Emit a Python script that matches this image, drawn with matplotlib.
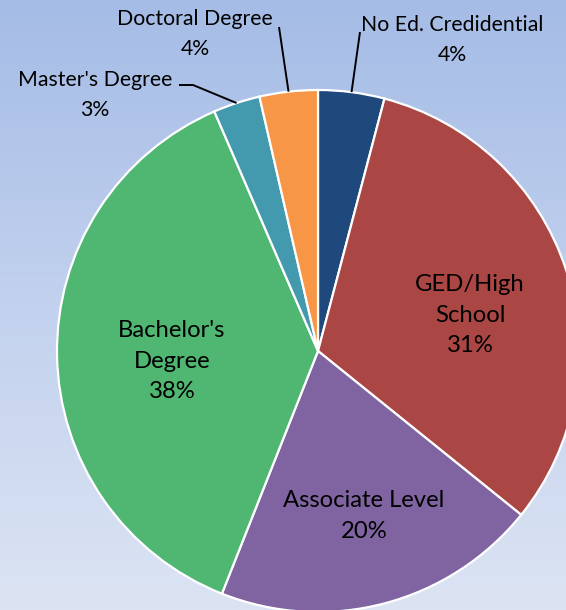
import numpy as np
import matplotlib
matplotlib.use("Agg")
import matplotlib.pyplot as plt
from matplotlib.colors import LinearSegmentedColormap

plt.rcParams['font.family'] = ['Lato', 'DejaVu Sans']

categories = ["No Ed. Credidential", "GED/High\nSchool", "Associate Level",
              "Bachelor's\nDegree", "Master's Degree", "Doctoral Degree"]
values = [4.1, 31.7, 20.2, 37.5, 2.9, 3.6]
pct_labels = ["4%", "31%", "20%", "38%", "3%", "4%"]
colors = ["#1F497D", "#AA4744", "#8064A2", "#50B773", "#4399AE", "#F79646"]

W, H = 566, 610
fig = plt.figure(figsize=(W / 100, H / 100), dpi=100)
ax = fig.add_axes([0, 0, 1, 1])

# gradient background
cmap = LinearSegmentedColormap.from_list("bg", ["#DCE4F3", "#C2D1EE", "#A5BCE6"])
grad = np.linspace(0, 1, 256).reshape(-1, 1)
ax.imshow(grad, extent=[0, W, 0, H], origin='lower', cmap=cmap, aspect='auto', zorder=0)

cx, cy, R = 318, H - 351, 261
wedges, _ = ax.pie(values, colors=colors, startangle=90, counterclock=False,
                   center=(cx, cy), radius=R, frame=True,
                   wedgeprops=dict(edgecolor='white', linewidth=1.6))
for w in wedges:
    w.set_zorder(2)
ax.set_xlim(0, W)
ax.set_ylim(0, H)
ax.axis('off')

inner_fs = 17.2
outer_fs = 15.3

# inner labels (positions in image pixel coords, y down)
inner = {1: (470, 315), 2: (364, 516), 3: (172, 361)}
for i, (x, y) in inner.items():
    ax.text(x, H - y, categories[i] + "\n" + pct_labels[i], ha='center', va='center',
            fontsize=inner_fs, linespacing=1.55, color='black', zorder=5)

# outer labels with leader lines
outer = {0: ((452, 40), (360, 32)),
         5: ((195, 34), (279, 27)),
         4: ((95, 95), (179, 85))}
for i, ((x, y), (ax_, ay_)) in outer.items():
    ax.text(x, H - y, categories[i] + "\n" + pct_labels[i], ha='center', va='center',
            fontsize=outer_fs, linespacing=1.6, color='black', zorder=5)
    w = wedges[i]
    mid = np.deg2rad((w.theta1 + w.theta2) / 2)
    px, py = cx + R * np.cos(mid), cy + R * np.sin(mid)
    if i == 4:
        xs = [ax_, ax_ + 14, px]
        ys = [H - ay_, H - ay_, py]
    else:
        xs = [ax_, px]
        ys = [H - ay_, py]
    ax.plot(xs, ys, color='black', lw=1.4, zorder=4, solid_capstyle='butt')

fig.savefig("out.png", dpi=100)
